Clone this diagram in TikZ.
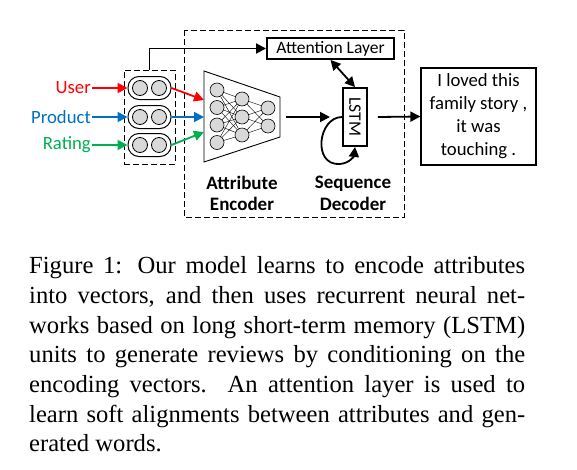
\documentclass[tikz,border=0pt]{standalone}
\usepackage{fontspec}
\setmainfont{Liberation Serif}
\newfontfamily\calibri{Carlito}
\usetikzlibrary{arrows.meta}
\definecolor{userred}{RGB}{255,0,0}
\definecolor{prodblue}{RGB}{0,112,192}
\definecolor{rategreen}{RGB}{0,176,80}
\definecolor{cellgray}{RGB}{217,217,217}
\begin{document}
\begin{tikzpicture}[x=1pt,y=-1pt,
  >={Triangle[length=10pt,width=10pt]},
  lbl/.style={font=\calibri\fontsize{18.7}{23}\selectfont},
  hdr/.style={font=\calibri\bfseries\fontsize{19}{21.5}\selectfont,align=center},
  dashbox/.style={draw,dash pattern=on 6pt off 3pt,line width=0.9pt},
  pill/.style={draw,line width=1pt,rounded corners=11pt,minimum width=43pt,minimum height=23pt,inner sep=0pt},
  dot/.style={circle,draw,line width=0.8pt,fill=cellgray,minimum size=15pt,inner sep=0pt},
  cell/.style={circle,draw,line width=0.6pt,fill=cellgray,minimum size=14pt,inner sep=0pt},
  box/.style={draw,line width=1.9pt,inner sep=0pt,font=\calibri\fontsize{17.5}{21}\selectfont},
  flow/.style={->,line width=1.8pt}]
\useasboundingbox (0,0) rectangle (577,469);

% attribute embeddings
\node[dashbox,minimum width=51pt,minimum height=94pt] (emb) at (149.5,117) {};
\foreach \y [count=\i] in {88,117,145} {
  \node[pill] (p\i) at (149.5,\y) {};
  \node[dot] at (140,\y) {};
  \node[dot] at (159,\y) {};
}
\node[lbl,text=userred,anchor=east,inner sep=1pt] (user) at (92,88) {User};
\node[lbl,text=prodblue,anchor=east,inner sep=1pt] (product) at (92,117) {Product};
\node[lbl,text=rategreen,anchor=east,inner sep=1pt] (rating) at (92,145) {Rating};
\draw[flow,userred] (user) -- (p1);
\draw[flow,prodblue] (product) -- (p2);
\draw[flow,rategreen] (rating) -- (p3);

% encoder / decoder frame
\draw[dashbox] (184,30) rectangle (404,217);

% attribute encoder
\coordinate (in1) at (204,100);
\coordinate (in2) at (204,117);
\coordinate (in3) at (204,132);
\draw[line width=0.9pt] (204,71) -- (280,97) -- (280,137) -- (204,162) -- cycle;
\foreach \y [count=\i] in {90,107.5,125,142.5} \node[cell] (a\i) at (217,\y) {};
\foreach \y [count=\i] in {99,117,135} \node[cell] (b\i) at (242,\y) {};
\foreach \y [count=\i] in {108,126} \node[cell] (c\i) at (268,\y) {};
\foreach \i in {1,...,4}
  \foreach \j in {1,2,3}
    \draw[line width=0.4pt] (a\i) -- (b\j);
\foreach \i in {1,2,3}
  \foreach \j in {1,2}
    \draw[line width=0.4pt] (b\i) -- (c\j);
\draw[flow,userred] (p1.east) -- (in1);
\draw[flow,prodblue] (p2.east) -- (in2);
\draw[flow,rategreen] (p3.east) -- (in3);
\node[hdr] (enclbl) at (242,193.5) {Attribute\\Encoder};

% sequence decoder
\node[box,minimum width=127pt,minimum height=21pt] (att) at (330.5,48.5) {Attention Layer};
\node[box,minimum width=24pt,minimum height=58pt] (lstm) at (355,117) {\rotatebox{-90}{LSTM}};
\node[hdr] (declbl) at (353,193.5) {Sequence\\Decoder};
\draw[flow] (emb.north) |- (att.west);
\draw[flow,<->] (att.south) -- (lstm.north);
\coordinate (encout) at (286,117);
\coordinate (loopin) at (330,117);
\draw[flow] (encout) -- (loopin);
\draw[flow] (lstm.west) .. controls (318,117) and (312,166) .. (340,164)
  .. controls (350,163) and (354,156) .. (lstm.south);

% generated review
\node[box,line width=1.2pt,lbl,minimum width=115pt,minimum height=97pt,align=center] (out) at (478.5,116.5)
  {I loved this\\family story ,\\it was\\touching .};
\draw[flow] ([xshift=10pt]lstm.east) -- (out.west);

% caption
\node[anchor=north west,inner sep=0pt,text width=496pt,align=justify,
  font=\fontsize{24.6}{29.7}\selectfont] (cap) at (29,256.5)
  {Figure 1: Our model learns to encode attributes\linebreak
   into vectors, and then uses recurrent neural net-\linebreak
   works based on long short-term memory (LSTM)\linebreak
   units to generate reviews by conditioning on the\linebreak
   encoding vectors. An attention layer is used to\linebreak
   learn soft alignments between attributes and gen-\linebreak
   erated words.};
\end{tikzpicture}
\end{document}
